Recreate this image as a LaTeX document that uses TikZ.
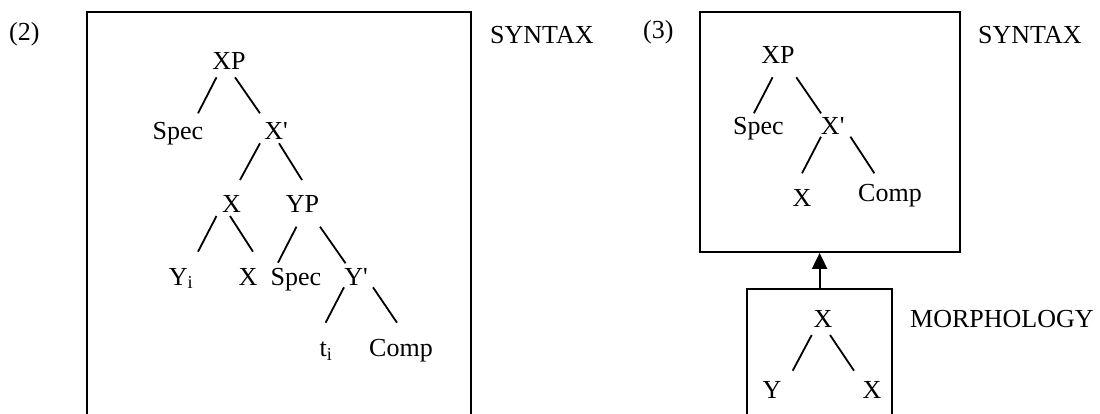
\documentclass[tikz,border=0pt]{standalone}
\usepackage{fontspec}
\newfontfamily\tnr{Liberation Serif}
\usetikzlibrary{arrows.meta,calc}
\begin{document}
\begin{tikzpicture}[x=1pt,y=-1pt,
  lbl/.style={font={\tnr\fontsize{26}{30}\selectfont}, inner sep=0pt, anchor=base},
  tag/.style={lbl, anchor=base west},
  framebox/.style={draw, line width=2.2pt, inner sep=0pt, anchor=north west},
  branch/.style={line width=1.8pt},
  lift/.style={line width=2pt, -{Triangle[length=16pt,width=15pt]}}]
\useasboundingbox (0,0) rectangle (1100,414);

% ---- example (2): head movement inside the syntax ----
\node[framebox, minimum width=384pt, minimum height=500pt] (boxL) at (85.5,11) {};
\node[tag] (num2) at (9,41) {(2)};
\node[tag] (synL) at (490,43.5) {SYNTAX};

\node[lbl] (xpL)    at (229,70)    {XP};
\node[lbl] (specL)  at (178,140)   {Spec};
\node[lbl] (xbarL)  at (276,140)   {X'};
\node[lbl] (xL)     at (231.6,213) {X};
\node[lbl] (ypL)    at (302.5,213) {YP};
\node[lbl] (yiL)    at (181,285)   {Y\textsubscript{i}};
\node[lbl] (xxL)    at (248,285)   {X};
\node[lbl] (spec2L) at (296,285)   {Spec};
\node[lbl] (ybarL)  at (356,285)   {Y'};
\node[lbl] (tiL)    at (326,356.7) {t\textsubscript{i}};
\node[lbl] (compL)  at (401,356.7) {Comp};

\draw[branch] ($(xpL.base)+(-12.5,7.3)$)  -- ($(specL.base)+(20,-26.7)$);
\draw[branch] ($(xpL.base)+(6,7.3)$)      -- ($(xbarL.base)+(-16,-26.7)$);
\draw[branch] ($(xbarL.base)+(-16,3.3)$)  -- ($(xL.base)+(8.4,-33)$);
\draw[branch] ($(xbarL.base)+(3,3.3)$)    -- ($(ypL.base)+(-0.5,-33)$);
\draw[branch] ($(xL.base)+(-15.1,3)$)     -- ($(yiL.base)+(17,-33.3)$);
\draw[branch] ($(xL.base)+(-1.6,3)$)      -- ($(xxL.base)+(5,-33.3)$);
\draw[branch] ($(ypL.base)+(-6,13.7)$)    -- ($(spec2L.base)+(-18,-22.3)$);
\draw[branch] ($(ypL.base)+(17.5,13.7)$)  -- ($(ybarL.base)+(-10.4,-21.7)$);
\draw[branch] ($(ybarL.base)+(-12,2.3)$)  -- ($(tiL.base)+(-0.4,-34)$);
\draw[branch] ($(ybarL.base)+(17,2.3)$)   -- ($(compL.base)+(-4,-34)$);

% ---- example (3): morphology feeding syntax ----
\node[framebox, minimum width=260pt, minimum height=239.7pt] (boxR) at (698.5,11) {};
\node[framebox, minimum width=145pt, minimum height=200pt] (boxM) at (746,287.5) {};
\node[tag] (num3) at (643,39) {(3)};
\node[tag] (synR) at (978,43.5) {SYNTAX};
\node[tag] (morph) at (910,327) {MORPHOLOGY};

\node[lbl] (xpR)   at (778,63.3)    {XP};
\node[lbl] (specR) at (758.5,135)   {Spec};
\node[lbl] (xbarR) at (832.7,135)   {X'};
\node[lbl] (xR)    at (802,206.7)   {X};
\node[lbl] (compR) at (890,201.7)   {Comp};

\draw[branch] ($(xpR.base)+(-5.4,14)$)    -- ($(specR.base)+(-4.6,-21.7)$);
\draw[branch] ($(xpR.base)+(18.3,14)$)    -- ($(xbarR.base)+(-11.7,-21.7)$);
\draw[branch] ($(xbarR.base)+(-11.7,1.7)$) -- ($(xR.base)+(0,-33.4)$);
\draw[branch] ($(xbarR.base)+(17.7,1.7)$) -- ($(compR.base)+(-15.6,-28.4)$);

\node[lbl] (xmR) at (823,327)  {X};
\node[lbl] (yR)  at (772,398)  {Y};
\node[lbl] (xxR) at (872,398)  {X};

\draw[branch] ($(xmR.base)+(-11.3,8)$) -- ($(yR.base)+(20.7,-27.3)$);
\draw[branch] ($(xmR.base)+(7,8)$)     -- ($(xxR.base)+(-18,-27.3)$);

\draw[lift] (boxM.north) -- (boxM.north |- boxR.south);
\end{tikzpicture}
\end{document}
